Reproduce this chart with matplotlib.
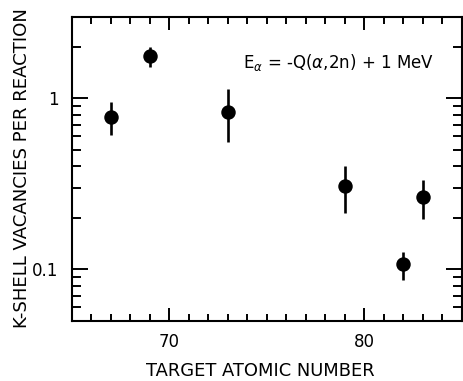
import matplotlib
matplotlib.use("Agg")
import matplotlib.pyplot as plt
from matplotlib.ticker import FixedLocator, NullFormatter, LogLocator
import numpy as np

# Target atomic number Z and measured K-shell vacancies per reaction
atomic_number = [67, 69, 73, 79, 82, 83]
vacancies = [0.776, 1.77, 0.835, 0.308, 0.108, 0.265]
err_upper = [0.956, 2.00, 1.14, 0.40, 0.127, 0.334]
err_lower = [0.615, 1.53, 0.554, 0.215, 0.087, 0.197]

x_ticks = [70, 80]
y_ticks = [0.1, 1]
y_tick_labels = ["0.1", "1"]

plt.rcParams["font.family"] = ["DejaVu Sans"]

fig = plt.figure(figsize=(4.63, 3.81), dpi=100)
ax = fig.add_axes([0.155, 0.1575, 0.842, 0.7985])

v = np.array(vacancies)
yerr = np.vstack([v - np.array(err_lower), np.array(err_upper) - v])
ax.errorbar(atomic_number, vacancies, yerr=yerr, fmt="o", color="black",
            markersize=9.4, elinewidth=1.9, capsize=0, zorder=3)

ax.set_yscale("log")
ax.set_xlim(65, 85)
ax.set_ylim(0.05, 3.0)

ax.xaxis.set_major_locator(FixedLocator(x_ticks))
ax.xaxis.set_minor_locator(FixedLocator(np.arange(66, 85, 1)))
ax.yaxis.set_major_locator(FixedLocator(y_ticks))
ax.set_yticklabels(y_tick_labels)
ax.yaxis.set_minor_locator(LogLocator(base=10, subs=np.arange(2, 10)))
ax.yaxis.set_minor_formatter(NullFormatter())

for s in ax.spines.values():
    s.set_linewidth(1.5)

ax.tick_params(axis="both", which="both", direction="in", top=True, right=True,
               width=1.4, labelsize=12)
ax.tick_params(axis="x", which="major", length=9.5, pad=8.5)
ax.tick_params(axis="x", which="minor", length=5)
ax.tick_params(axis="y", which="major", length=11.5, pad=9.5)
ax.tick_params(axis="y", which="minor", length=6.5)

ax.set_xlabel("TARGET ATOMIC NUMBER", fontsize=12.9, va="center")
ax.xaxis.set_label_coords(0.483, -0.166)
ax.set_ylabel("K-SHELL VACANCIES PER REACTION", fontsize=13.1, va="center")
ax.yaxis.set_label_coords(-0.127, 0.503)

ax.text(0.439, 0.851, r"E$_\alpha$ = -Q($\alpha$,2n) + 1 MeV",
        transform=ax.transAxes, fontsize=12, ha="left", va="center")

fig.savefig("out.png", dpi=100)
